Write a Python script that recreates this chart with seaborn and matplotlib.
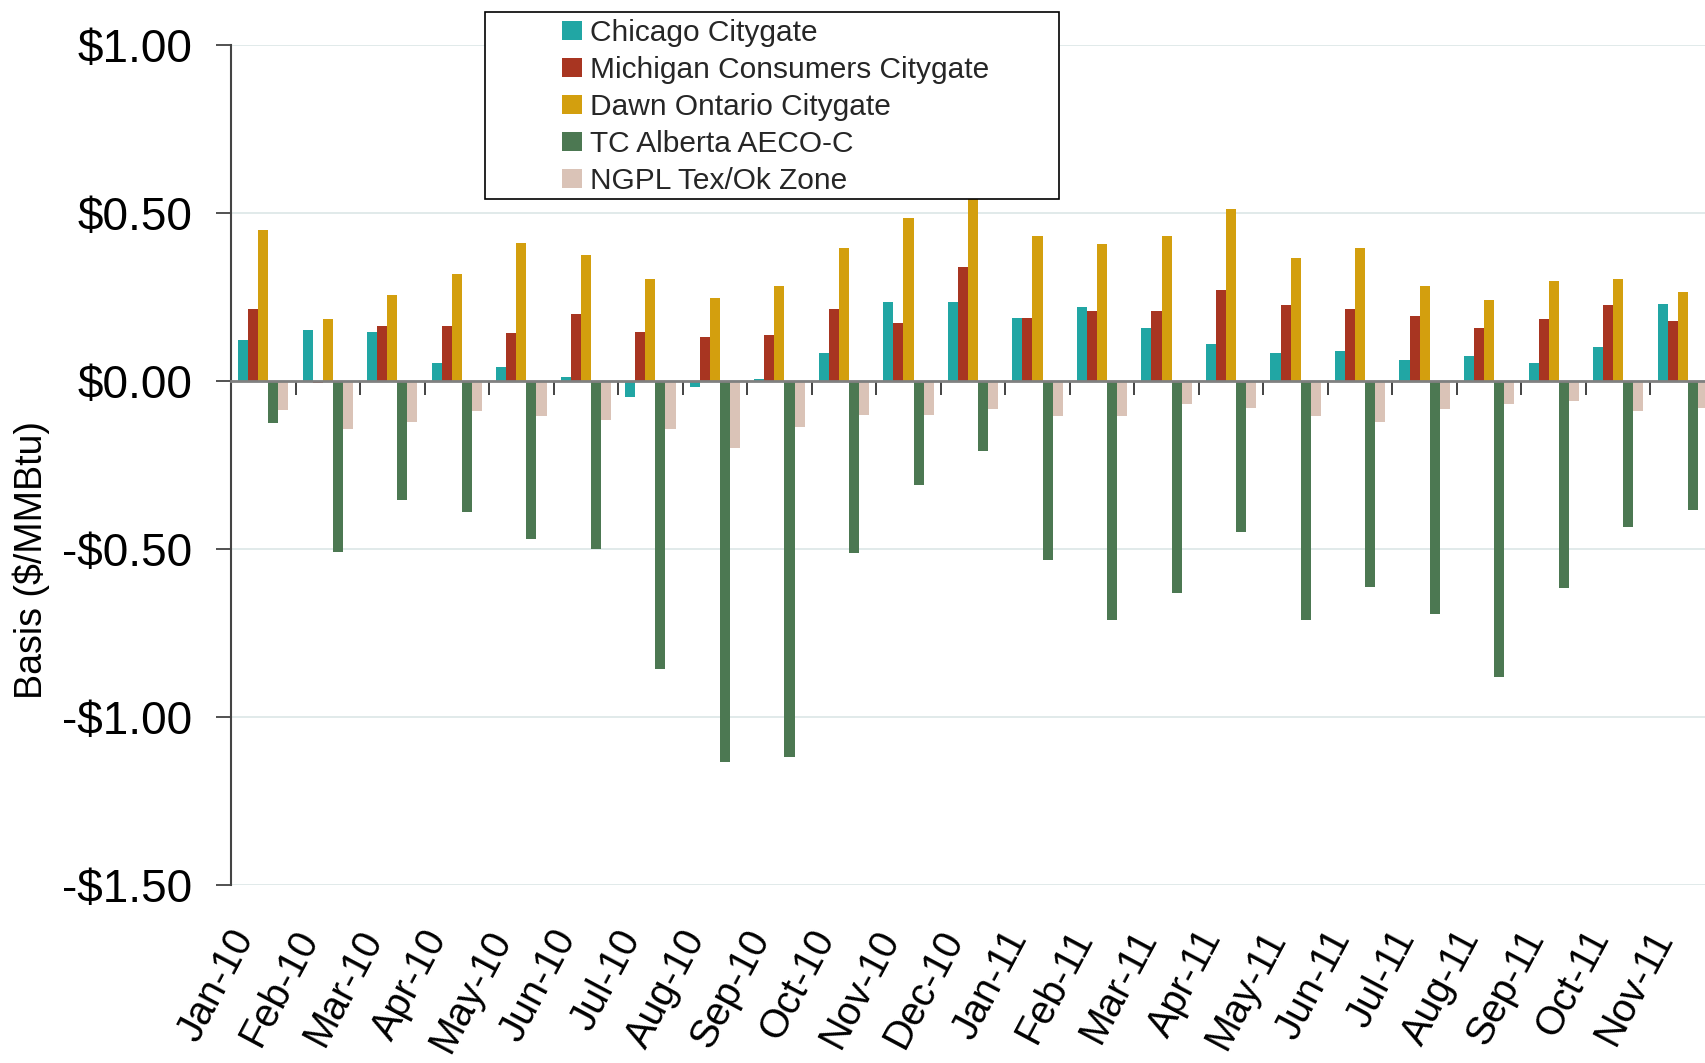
import numpy as np
import pandas as pd
import matplotlib
matplotlib.use("Agg")
import matplotlib.pyplot as plt
import matplotlib.transforms as mtransforms
from matplotlib.patches import Rectangle
from matplotlib.ticker import FuncFormatter
import seaborn as sns

# Monatsbasis gegenueber Henry Hub ($/MMBtu)
months = ["Jan-10", "Feb-10", "Mar-10", "Apr-10", "May-10", "Jun-10", "Jul-10", "Aug-10",
          "Sep-10", "Oct-10", "Nov-10", "Dec-10", "Jan-11", "Feb-11", "Mar-11", "Apr-11",
          "May-11", "Jun-11", "Jul-11", "Aug-11", "Sep-11", "Oct-11", "Nov-11"]
hubs = ["Chicago Citygate", "Michigan Consumers Citygate", "Dawn Ontario Citygate",
        "TC Alberta AECO-C", "NGPL Tex/Ok Zone"]

chicago = [0.122, 0.151, 0.145, 0.053, 0.041, 0.011, -0.048, -0.018, 0.005, 0.083, 0.235, 0.235,
           0.187, 0.220, 0.157, 0.110, 0.083, 0.089, 0.062, 0.074, 0.053, 0.101, 0.229]
michigan = [0.214, -0.006, 0.163, 0.163, 0.142, 0.199, 0.145, 0.130, 0.136, 0.214, 0.172, 0.340,
            0.187, 0.208, 0.208, 0.271, 0.226, 0.214, 0.193, 0.157, 0.184, 0.226, 0.178]
dawn = [0.450, 0.184, 0.256, 0.319, 0.411, 0.375, 0.304, 0.247, 0.283, 0.396, 0.486, 0.580,
        0.432, 0.408, 0.432, 0.513, 0.367, 0.396, 0.283, 0.241, 0.298, 0.304, 0.265]
aeco = [-0.124, -0.509, -0.353, -0.389, -0.469, -0.499, -0.857, -1.135, -1.120, -0.512, -0.311, -0.207,
        -0.533, -0.711, -0.631, -0.450, -0.711, -0.613, -0.693, -0.880, -0.616, -0.435, -0.385]
ngpl = [-0.085, -0.143, -0.123, -0.090, -0.105, -0.117, -0.143, -0.200, -0.137, -0.102, -0.102, -0.084,
        -0.105, -0.105, -0.069, -0.081, -0.105, -0.122, -0.084, -0.069, -0.060, -0.090, -0.081]

colors = ["#21a6a4", "#a83521", "#d39f0e", "#4c7852", "#dac3b7"]

# Long-Format fuer seaborn
df = pd.DataFrame({"month": months * 5,
                   "hub": np.repeat(hubs, len(months)),
                   "basis": chicago + michigan + dawn + aeco + ngpl})

sns.set_style("white")
plt.rcParams["font.family"] = ["Liberation Sans", "DejaVu Sans"]

fig = plt.figure(figsize=(17.05, 10.63), dpi=100)
ax = fig.add_axes([231 / 1705, 1 - 885 / 1063, 1484 / 1705, 840 / 1063])

sns.barplot(data=df, x="month", y="basis", hue="hub", order=months, hue_order=hubs,
            palette=colors, saturation=1, width=0.78, errorbar=None, linewidth=0, ax=ax)

ax.set_ylim(-1.5, 1.0)
ax.set_xlim(-0.5, len(months) - 0.5)
ax.set_yticks([1.0, 0.5, 0.0, -0.5, -1.0, -1.5])
ax.yaxis.set_major_formatter(FuncFormatter(lambda v, p: f"-${abs(v):.2f}" if v < 0 else f"${v:.2f}"))
ax.tick_params(axis="y", labelsize=33, length=11, width=1.2, color="#333333", pad=17, left=True,
               labelcolor="black")
ax.grid(axis="y", color="#dbe6e6", linewidth=1.2)
ax.set_axisbelow(True)

# Nulllinie mit Trennstrichen zwischen den Monaten
for s in ["top", "right"]:
    ax.spines[s].set_visible(False)
ax.spines["left"].set_color("#444444")
ax.spines["left"].set_linewidth(1.5)
ax.spines["bottom"].set_position(("data", 0))
ax.spines["bottom"].set_color("#808080")
ax.spines["bottom"].set_linewidth(2)
ax.set_xticks([])
ax.set_xticks(np.arange(-0.5, len(months), 1), minor=True)
ax.tick_params(axis="x", which="minor", length=10, width=1.2, color="#222222", direction="out", bottom=True)
ax.set_xlabel("")

# Monatsbeschriftung am unteren Rand
sec = ax.secondary_xaxis("bottom")
sec.set_xticks(range(len(months)), labels=months)
sec.tick_params(length=0, labelsize=28.5, pad=34, labelcolor="black")
sec.spines["bottom"].set_visible(False)
shift = mtransforms.ScaledTranslation(-0.19, 0, fig.dpi_scale_trans)
for lbl in sec.get_xticklabels():
    lbl.set_rotation(62)
    lbl.set_ha("right")
    lbl.set_va("center")
    lbl.set_rotation_mode("anchor")
    lbl.set_transform(lbl.get_transform() + shift)

ax.set_ylabel("Basis ($/MMBtu)", fontsize=27, color="black")
ax.yaxis.set_label_coords(-0.122, 0.387)

# Legende mit eigenem Rahmen
handles, labels = ax.get_legend_handles_labels()
ax.get_legend().remove()
fig.add_artist(Rectangle((485 / 1705, 1 - 199 / 1063), 574 / 1705, 187 / 1063,
                         transform=fig.transFigure, facecolor="white", edgecolor="black",
                         linewidth=1.2, zorder=3))
fig.legend(handles, labels, loc="upper left", bbox_to_anchor=(562 / 1705, 1 - 19 / 1063),
           frameon=False, fontsize=21.5, handlelength=0.67, handleheight=0.6,
           handletextpad=0.27, labelspacing=0.3, borderpad=0, borderaxespad=0)

fig.savefig("out.png", dpi=100)
